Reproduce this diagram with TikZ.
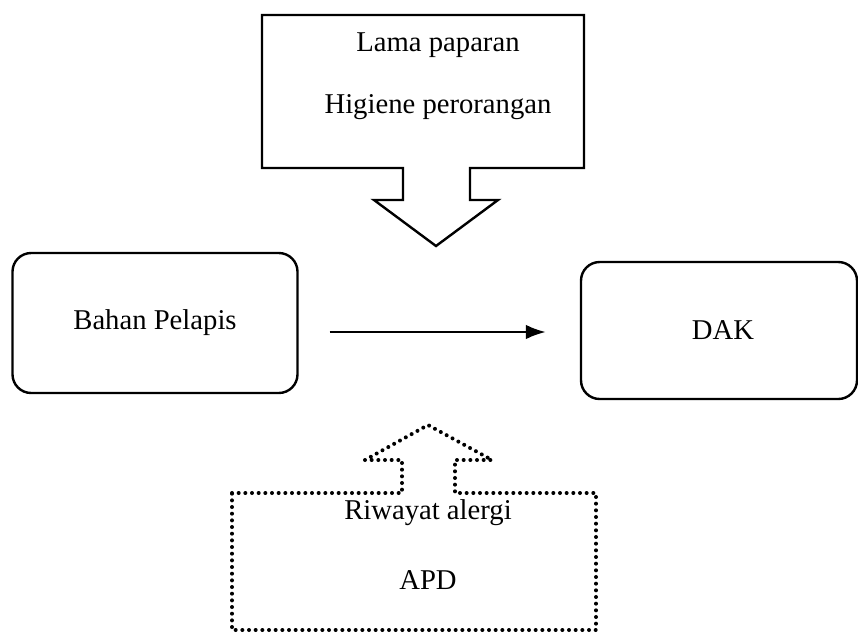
\documentclass[tikz,border=0pt]{standalone}
\usepackage{fontspec}
\setmainfont{Liberation Serif}
\usetikzlibrary{arrows.meta}
\tikzset{
  box/.style={draw,line width=1.8pt,rounded corners=14pt,font=\fontsize{21.5}{25}\selectfont},
  lbl/.style={font=\fontsize{21.5}{25}\selectfont,inner sep=0pt},
  dots/.style={line width=3pt,dash pattern=on 0pt off 5pt,line cap=round}
}
\begin{document}
\begin{tikzpicture}[x=0.75pt,y=-0.75pt]
\useasboundingbox (0,0) rectangle (858,633);
\node[box,minimum width=213.75pt,minimum height=105pt] (bahan) at (155,323) {Bahan Pelapis};
\node[box,minimum width=207pt,minimum height=102.75pt] (dak) at (719,330.5) {\hspace*{6pt}DAK};
\draw[line width=1.8pt,-{Latex[length=15pt,width=11pt]}] ([shift={(31,9)}]bahan.east) -- ([shift={(-34,1.5)}]dak.west);
% solid callout from above
\draw[line width=1.8pt] (262,15) -- (584,15) -- (584,168) -- (470,168) -- (470,200) -- (498,200)
  -- (436,246) coordinate (tip1) -- (374,200) -- (403,200) -- (403,168) -- (262,168) -- cycle;
\node[lbl] (lama) at (438,45) {Lama paparan};
\node[lbl] (higiene) at (438,107) {Higiene perorangan};
% dotted callout from below
\draw[dots] (232,493) -- (402,493) -- (402,460) -- (365,460) -- (428,425) coordinate (tip2)
  -- (492,460) -- (455,460) -- (455,493) -- (596,493) -- (596,630) -- (232,630) -- cycle;
\node[lbl] (riwayat) at (428,513) {Riwayat alergi};
\node[lbl] (apd) at (428,580) {APD};
\end{tikzpicture}
\end{document}
